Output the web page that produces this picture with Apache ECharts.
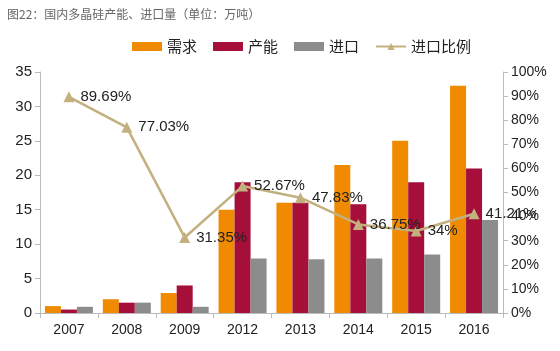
<!DOCTYPE html>
<html>
<head>
<meta charset="utf-8">
<script src="https://cdn.jsdelivr.net/npm/echarts@6/dist/echarts.min.js"></script>
<style>
  html, body { margin: 0; padding: 0; background: #fff; }
  #chart { width: 560px; height: 351px; }
</style>
</head>
<body>
<div id="chart"></div>
<script>
// 年份
var years = ['2007', '2008', '2009', '2012', '2013', '2014', '2015', '2016']
// 需求、产能、进口（万吨）
var demand = [1.0, 2.0, 2.9, 15, 16, 21.5, 25, 33]
var capacity = [0.5, 1.5, 4, 19, 16, 15.8, 19, 21]
var imports = [0.9, 1.5, 0.9, 7.9, 7.8, 7.9, 8.5, 13.5]
// 进口比例（%）
var importRatio = [89.69, 77.03, 31.35, 52.67, 47.83, 36.75, 34, 41.21]

var font = 'Liberation Sans, Arial, Noto Sans CJK SC, sans-serif'
var chart = echarts.init(document.getElementById('chart'))

var barSeries = function (name, data, color) {
  return {
    name: name,
    type: 'bar',
    data: data,
    barWidth: 16,
    barGap: '0%',
    itemStyle: { color: color }
  }
}

chart.setOption({
  animation: false,
  textStyle: { fontFamily: font },
  title: {
    text: '图22：国内多晶硅产能、进口量（单位：万吨）',
    left: 2,
    top: 3,
    textStyle: { fontSize: 12, fontWeight: 400, color: '#666', fontFamily: 'Noto Sans CJK SC' }
  },
  legend: {
    top: 34,
    left: 127,
    itemWidth: 30,
    itemHeight: 9,
    itemGap: 16,
    textStyle: { fontSize: 15, color: '#222', fontFamily: 'Noto Sans CJK SC' },
    data: [
      { name: '需求', icon: 'rect' },
      { name: '产能', icon: 'rect' },
      { name: '进口', icon: 'rect' },
      { name: '进口比例' }
    ]
  },
  grid: { left: 40, right: 57, top: 72, bottom: 38 },
  xAxis: {
    type: 'category',
    data: years,
    axisLine: { lineStyle: { color: '#bbb' } },
    axisTick: { show: true, lineStyle: { color: '#bbb' } },
    axisLabel: { fontSize: 14, color: '#222', margin: 10 }
  },
  yAxis: [
    {
      type: 'value',
      min: 0,
      max: 35,
      interval: 5,
      axisLine: { show: true, lineStyle: { color: '#bbb' } },
      axisTick: { show: true, lineStyle: { color: '#bbb' } },
      splitLine: { show: false },
      axisLabel: { fontSize: 15, color: '#222', margin: 8 }
    },
    {
      type: 'value',
      min: 0,
      max: 100,
      interval: 10,
      position: 'right',
      axisLine: { show: true, lineStyle: { color: '#bbb' } },
      axisTick: { show: true, lineStyle: { color: '#bbb' } },
      splitLine: { show: false },
      axisLabel: { fontSize: 14, color: '#222', margin: 8, formatter: '{value}%' }
    }
  ],
  series: [
    barSeries('需求', demand, '#F08A00'),
    barSeries('产能', capacity, '#A50F3A'),
    barSeries('进口', imports, '#8C8C8C'),
    {
      name: '进口比例',
      type: 'line',
      yAxisIndex: 1,
      data: importRatio,
      symbol: 'triangle',
      symbolSize: 11,
      lineStyle: { width: 2.5, color: '#C2B07E' },
      itemStyle: { color: '#C2B07E' },
      label: {
        show: true,
        position: 'right',
        distance: 6,
        fontSize: 15,
        color: '#222',
        formatter: function (p) { return p.value + '%' }
      }
    }
  ]
})
</script>
</body>
</html>
